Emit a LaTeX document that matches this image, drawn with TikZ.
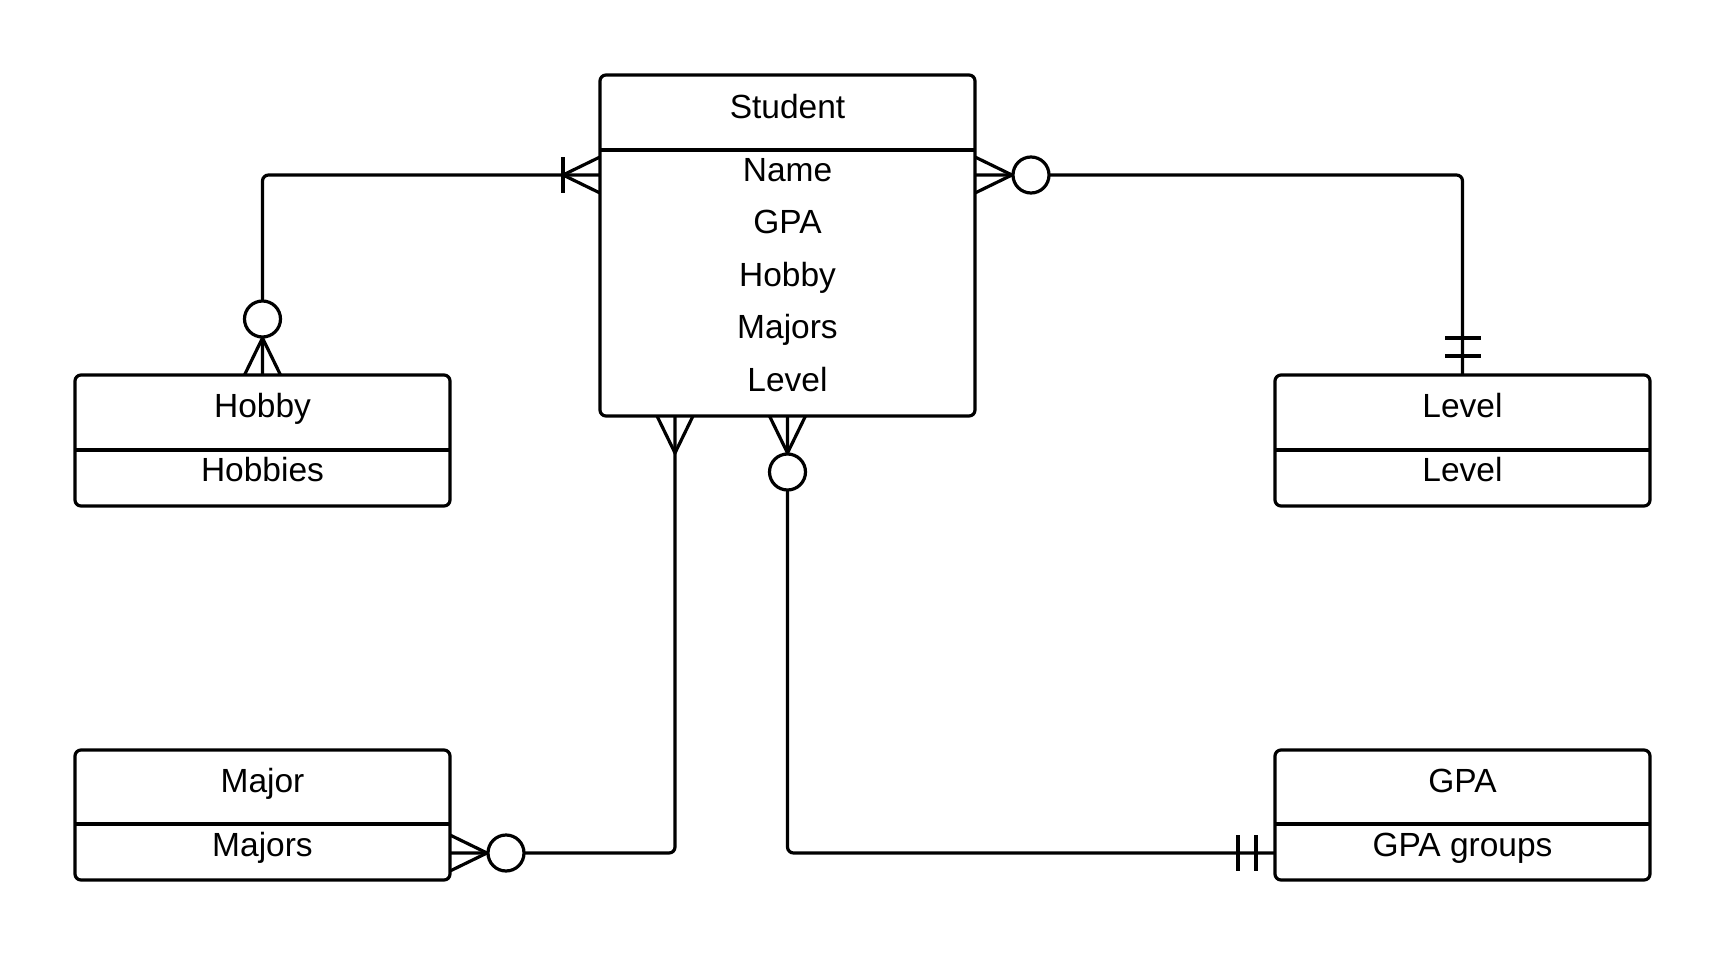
\documentclass[tikz,border=0pt]{standalone}
\usepackage{fontspec}
\setmainfont{Liberation Sans}
\begin{document}
\begin{tikzpicture}[x=1pt,y=-1pt,line width=3.2pt,
  entity/.style={draw, rounded corners=6pt, inner sep=0pt, outer sep=0pt, minimum width=375pt},
  lbl/.style={anchor=base, inner sep=0pt, font=\fontsize{33.5}{40}\selectfont},
  conn/.style={rounded corners=6pt},
  zeromany/.pic={\draw (0,18)--(37,0)--(0,-18); \draw[fill=white] (56,0) circle (18pt);},
  onemany/.pic={\draw (0,18)--(37,0)--(0,-18); \draw (37,18)--(37,-18);},
  manyonly/.pic={\draw (0,18)--(37,0)--(0,-18);},
  exactlyone/.pic={\draw (19,18)--(19,-18); \draw (37,18)--(37,-18);}
]
\useasboundingbox (0,0) rectangle (1725,958);

% entities
\node[entity, minimum height=341pt] (student) at (787.5,245.5) {};
\draw (600,150) -- (975,150);
\node[entity, minimum height=131pt] (hobby) at (262.5,440.5) {};
\draw (75,450) -- (450,450);
\node[entity, minimum height=131pt] (level) at (1462.5,440.5) {};
\draw (1275,450) -- (1650,450);
\node[entity, minimum height=130pt] (major) at (262.5,815) {};
\draw (75,824) -- (450,824);
\node[entity, minimum height=130pt] (gpa) at (1462.5,815) {};
\draw (1275,824) -- (1650,824);

% labels
\node[lbl] (tStudent) at (787.5,118) {Student};
\node[lbl] (tName) at (787.5,181) {Name};
\node[lbl] (tGPA) at (787.5,233.5) {GPA};
\node[lbl] (tHobby) at (787.5,286) {Hobby};
\node[lbl] (tMajors) at (787.5,338.5) {Majors};
\node[lbl] (tLevel) at (787.5,391) {Level};
\node[lbl] (hT) at (262.5,417) {Hobby};
\node[lbl] (hA) at (262.5,481) {Hobbies};
\node[lbl] (lT) at (1462.5,417) {Level};
\node[lbl] (lA) at (1462.5,481) {Level};
\node[lbl] (mT) at (262.5,792) {Major};
\node[lbl] (mA) at (262.5,856) {Majors};
\node[lbl] (gT) at (1462.5,792) {GPA};
\node[lbl] (gA) at (1462.5,856) {GPA groups};

% connection points
\coordinate (sW) at (600,175);
\coordinate (sE) at (975,175);
\coordinate (sB1) at (675,416);
\coordinate (sB2) at (787.5,416);
\coordinate (mE) at (450,853);
\coordinate (gL) at (1275,853);

% connectors
\draw[conn] (hobby.north) |- (sW);
\draw[conn] (sE) -| (level.north);
\draw[conn] (sB1) |- (mE);
\draw[conn] (sB2) |- (gL);

% ends
\pic[rotate=90] at (hobby.north) {zeromany};
\pic[rotate=180] at (sW) {onemany};
\pic at (sE) {zeromany};
\pic[rotate=90] at (level.north) {exactlyone};
\pic[rotate=-90] at (sB1) {manyonly};
\pic at (mE) {zeromany};
\pic[rotate=-90] at (sB2) {zeromany};
\pic[rotate=180] at (gL) {exactlyone};
\end{tikzpicture}
\end{document}
